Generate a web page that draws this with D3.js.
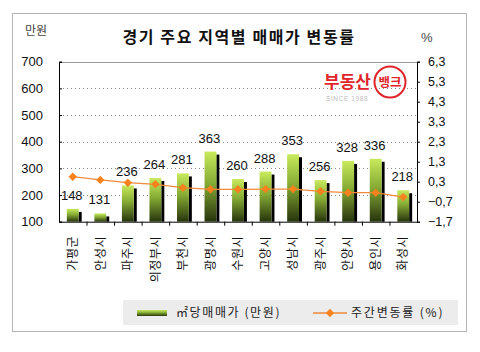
<!DOCTYPE html>
<html>
<head>
<meta charset="utf-8">
<script src="https://cdn.jsdelivr.net/npm/d3@7"></script>
<style>
  body { margin: 0; background: #fff; }
  svg { display: block; font-family: "Liberation Sans", Arial, sans-serif; }
  .kr { font-family: "Noto Sans CJK KR", sans-serif; }
</style>
</head>
<body>
<div id="chart"></div>
<script>
// data
const regions = ['가평군', '안성시', '파주시', '의정부시', '부천시', '광명시', '수원시',
  '고양시', '성남시', '광주시', '안양시', '용인시', '화성시'];
const pricePerM2 = [148, 131, 236, 264, 281, 363, 260, 288, 353, 256, 328, 336, 218];
const weeklyChange = [0.55, 0.39, 0.25, 0.17, 0.0, -0.08, -0.08, -0.07, -0.07, -0.18, -0.25, -0.25, -0.47];
const leftTicks = [100, 200, 300, 400, 500, 600, 700];
const rightTicks = [-1.7, -0.7, 0.3, 1.3, 2.3, 3.3, 4.3, 5.3, 6.3];

const W = 480, H = 352;
const plot = { left: 59, right: 417, top: 61.7, bottom: 221.7 };

const svg = d3.select('#chart').append('svg')
  .attr('width', W).attr('height', H);

const defs = svg.append('defs');
const grad = defs.append('linearGradient').attr('id', 'barGrad')
  .attr('x1', 0).attr('y1', 0).attr('x2', 0).attr('y2', 1);
grad.append('stop').attr('offset', '0%').attr('stop-color', '#c8ea5c');
grad.append('stop').attr('offset', '45%').attr('stop-color', '#86ab34');
grad.append('stop').attr('offset', '100%').attr('stop-color', '#26340c');

// outer frame
svg.append('rect')
  .attr('x', 12.5).attr('y', 13.5).attr('width', 454).attr('height', 318)
  .attr('fill', '#fff').attr('stroke', '#b4b4b4');

const x = d3.scaleBand().domain(regions).range([plot.left, plot.right]);
const yL = d3.scaleLinear().domain([100, 700]).range([plot.bottom, plot.top]);
const yR = d3.scaleLinear().domain([-1.7, 6.3]).range([plot.bottom, plot.top]);
const fmtR = v => d3.format('.1f')(v).replace('.', ',');

// grid
svg.append('g').selectAll('line')
  .data(leftTicks.filter(t => t > 100 && t < 700))
  .join('line')
  .attr('x1', plot.left).attr('x2', plot.right)
  .attr('y1', d => Math.round(yL(d)) + 0.5).attr('y2', d => Math.round(yL(d)) + 0.5)
  .attr('stroke', '#888').attr('stroke-dasharray', '1,3');

svg.append('line')
  .attr('x1', plot.left).attr('x2', plot.right)
  .attr('y1', Math.round(plot.top) + 0.5).attr('y2', Math.round(plot.top) + 0.5)
  .attr('stroke', '#999');

// watermark logo
const logo = svg.append('g').attr('class', 'kr');
logo.append('text').attr('x', 324).attr('y', 88)
  .attr('font-size', 17).attr('font-weight', 'bold').attr('fill', '#e0262b')
  .text('부동산');
logo.append('circle').attr('cx', 390).attr('cy', 82).attr('r', 15.5)
  .attr('fill', 'none').attr('stroke', '#e0262b').attr('stroke-width', 2);
logo.append('text').attr('x', 390).attr('y', 86.5).attr('text-anchor', 'middle')
  .attr('font-size', 12.5).attr('font-weight', 'bold').attr('fill', '#e0262b')
  .text('뱅크');
logo.append('text').attr('x', 326).attr('y', 101)
  .attr('font-family', 'Liberation Sans').attr('font-size', 6.5).attr('fill', '#bbb')
  .attr('letter-spacing', 0.6)
  .text('SINCE 1988');

// axes
const axL = svg.append('g').attr('transform', `translate(${plot.left},0)`)
  .call(d3.axisLeft(yL).tickValues(leftTicks).tickSize(-3).tickPadding(16));
const axR = svg.append('g').attr('transform', `translate(${plot.right},0)`)
  .call(d3.axisRight(yR).tickValues(rightTicks).tickFormat(fmtR).tickSize(3).tickPadding(8));
[axL, axR].forEach(a => {
  a.select('.domain').attr('stroke', '#000');
  a.selectAll('.tick line').attr('stroke', '#000');
  a.selectAll('text').attr('font-size', 13).attr('fill', '#111')
    .attr('font-family', 'Liberation Sans, Arial, sans-serif');
});
axR.selectAll('text').attr('font-size', 12.5);

const axB = svg.append('g').attr('transform', `translate(0,${plot.bottom})`)
  .call(d3.axisBottom(x).tickSize(0).tickFormat(''));
axB.select('.domain').attr('stroke', '#000');
axB.selectAll('.sep')
  .data(regions.slice(1))
  .join('line')
  .attr('x1', d => x(d) + 0.5).attr('x2', d => x(d) + 0.5)
  .attr('y1', 0).attr('y2', 4).attr('stroke', '#000');

// category labels (rotated)
svg.append('g').attr('class', 'kr').selectAll('text')
  .data(regions)
  .join('text')
  .attr('transform', d => `translate(${x(d) + x.bandwidth() / 2},236) rotate(-90)`)
  .attr('text-anchor', 'end').attr('dy', '0.35em')
  .attr('font-size', 12).attr('letter-spacing', 0.5).attr('fill', '#111')
  .text(d => d);

// bars
const bw = x.bandwidth() * 0.43;
const bars = svg.append('g');
bars.selectAll('.shadow')
  .data(pricePerM2)
  .join('rect').attr('class', 'shadow')
  .attr('x', (d, i) => x(regions[i]) + x.bandwidth() / 2 - bw / 2 + bw)
  .attr('y', d => yL(d) + 3)
  .attr('width', 3)
  .attr('height', d => plot.bottom - yL(d) - 3)
  .attr('fill', '#000');
bars.selectAll('.bar')
  .data(pricePerM2)
  .join('rect').attr('class', 'bar')
  .attr('x', (d, i) => x(regions[i]) + x.bandwidth() / 2 - bw / 2)
  .attr('y', d => yL(d))
  .attr('width', bw)
  .attr('height', d => plot.bottom - yL(d))
  .attr('fill', 'url(#barGrad)');

// line
const line = d3.line()
  .x((d, i) => x(regions[i]) + x.bandwidth() / 2)
  .y(d => yR(d));
svg.append('path').datum(weeklyChange)
  .attr('d', line).attr('fill', 'none')
  .attr('stroke', '#f08a3c').attr('stroke-width', 1.3);
svg.append('g').selectAll('path')
  .data(weeklyChange)
  .join('path')
  .attr('transform', (d, i) => `translate(${x(regions[i]) + x.bandwidth() / 2},${yR(d)})`)
  .attr('d', d3.symbol(d3.symbolDiamond2, 45))
  .attr('fill', '#f7821e');

// value labels
svg.append('g').selectAll('text')
  .data(pricePerM2)
  .join('text')
  .attr('x', (d, i) => x(regions[i]) + x.bandwidth() / 2 - 1)
  .attr('y', d => yL(d) - 9)
  .attr('text-anchor', 'middle')
  .attr('font-size', 13).attr('fill', '#111')
  .text(d => d);

// titles
svg.append('text').attr('class', 'kr')
  .attr('x', 239).attr('y', 43).attr('text-anchor', 'middle')
  .attr('font-size', 16).attr('font-weight', 'bold').attr('fill', '#111')
  .attr('letter-spacing', 1.6)
  .text('경기 주요 지역별 매매가 변동률');
svg.append('text').attr('class', 'kr')
  .attr('x', 25).attr('y', 35).attr('font-size', 12).attr('fill', '#444')
  .text('만원');
svg.append('text')
  .attr('x', 421).attr('y', 42).attr('font-size', 13).attr('fill', '#444')
  .text('%');

// legend
const lg = svg.append('g');
lg.append('rect').attr('x', 123).attr('y', 300).attr('width', 335).attr('height', 25)
  .attr('fill', '#ececec');
lg.append('rect').attr('x', 137).attr('y', 310).attr('width', 30).attr('height', 6)
  .attr('fill', 'url(#barGrad)');
lg.append('text').attr('class', 'kr').attr('x', 176).attr('y', 317)
  .attr('font-size', 12).attr('letter-spacing', 1.6).attr('fill', '#222').text('㎡당매매가 (만원)');
lg.append('line').attr('x1', 313).attr('x2', 347).attr('y1', 313).attr('y2', 313)
  .attr('stroke', '#f08a3c').attr('stroke-width', 1.3);
lg.append('path').attr('transform', 'translate(330,313)')
  .attr('d', d3.symbol(d3.symbolDiamond2, 45)).attr('fill', '#f7821e');
lg.append('text').attr('class', 'kr').attr('x', 351).attr('y', 317)
  .attr('font-size', 12).attr('letter-spacing', 1.8).attr('fill', '#222').text('주간변동률 (%)');
</script>
</body>
</html>
